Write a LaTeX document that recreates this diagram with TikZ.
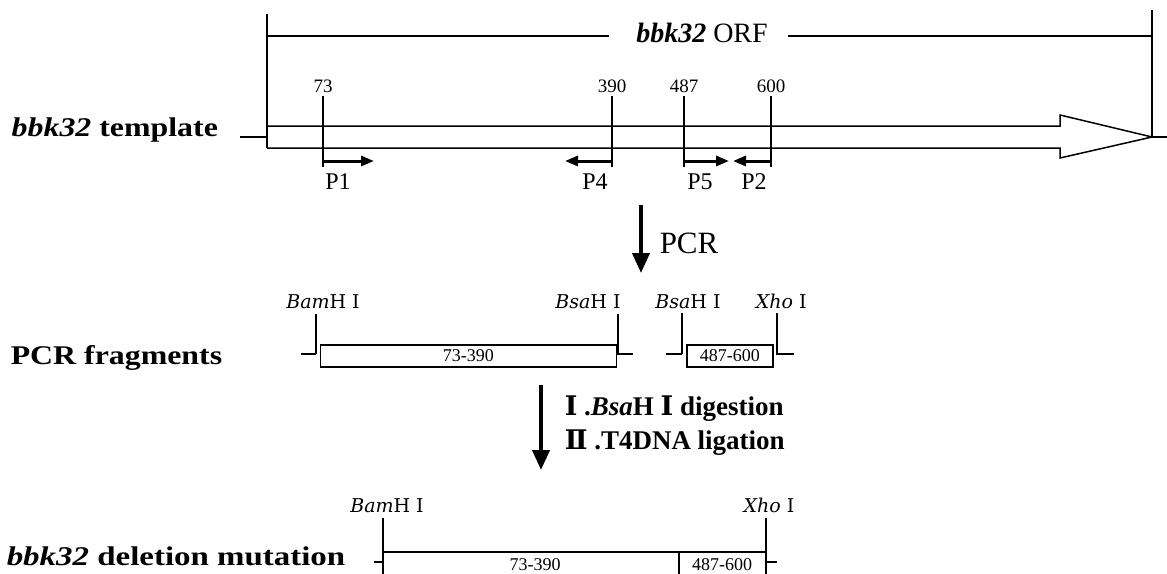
\documentclass[tikz,border=0pt]{standalone}
\usepackage{fontspec}
\setmainfont{Liberation Serif}
\newfontfamily\mainlbl[FakeStretch=1.18]{Liberation Serif}
\newfontfamily\dellbl[FakeStretch=1.22]{Liberation Serif}
\newfontfamily\steplbl[FakeStretch=1.0]{Liberation Serif}
\newfontfamily\romanf{DejaVu Serif}
\newfontfamily\enzf{DejaVu Serif}
\usetikzlibrary{arrows.meta}
\tikzset{
  primer/.style={line width=3pt,-{Triangle[length=13pt,width=10pt]}},
  bigarrow/.style={line width=4pt,-{Triangle[length=20pt,width=17pt]}},
  biglabel/.style={inner sep=0pt,font=\mainlbl\fontsize{27}{30}\selectfont\bfseries},
  dellabel/.style={inner sep=0pt,font=\dellbl\fontsize{27}{30}\selectfont\bfseries},
  steptext/.style={inner sep=0pt,font=\steplbl\fontsize{27}{30}\selectfont\bfseries},
  numlabel/.style={inner sep=0pt,font=\fontsize{19}{22}\selectfont},
  plabel/.style={inner sep=0pt,font=\fontsize{24}{26}\selectfont},
  enzlabel/.style={inner sep=0pt,font=\enzf\fontsize{19}{22}\selectfont},
  boxnum/.style={inner sep=0pt,font=\fontsize{18}{20}\selectfont},
  frag/.style={draw,line width=1.5pt,fill=white}
}
\begin{document}
\begin{tikzpicture}[x=1pt,y=-1pt,line width=1.5pt,line cap=butt]
\useasboundingbox (0,0) rectangle (1167,573);
\clip (0,0) rectangle (1167,573);

% ---------- ORF bracket ----------
\coordinate (orfL) at (267,36);
\coordinate (orfR) at (1152,36);
\node[inner sep=0pt,anchor=base,font=\fontsize{28}{30}\selectfont] (orf) at (702,42) {\textbf{\textit{bbk32}} ORF};
\draw (267,14) -- (267,148);
\draw (1152,10) -- (1152,137);
\draw (orfL) -- (609,36);
\draw (788,36) -- (orfR);

% ---------- template arrow ----------
\node[biglabel,anchor=base west] (tpl) at (11,136) {\textit{bbk32} template};
\coordinate (stubL) at (240,137);
\coordinate (tip) at (1152,137);
\draw (stubL) -- (267,137);
\draw (267,126) -- (1060,126) -- (1060,115) -- (tip) -- (1060,158) -- (1060,148) -- (267,148);
\draw (tip) -- (1167,137);

% position ticks
\foreach \x/\n in {323/73,612/390,684/487,771/600}{
  \node[numlabel,anchor=base] (n\n) at (\x,92) {\n};
  \draw (\x,96) -- (\x,167);
}
% primers
\draw[primer] (323,161) -- (374,161);
\draw[primer] (612,161) -- (565,161);
\draw[primer] (684,161) -- (729,161);
\draw[primer] (771,161) -- (733,161);
\node[plabel,anchor=base] (p1) at (338,189) {P1};
\node[plabel,anchor=base] (p4) at (595,189) {P4};
\node[plabel,anchor=base] (p5) at (700,189) {P5};
\node[plabel,anchor=base] (p2) at (754,189) {P2};

% ---------- PCR step ----------
\coordinate (pcrA) at (641,205);
\coordinate (pcrB) at (641,273);
\draw[bigarrow] (pcrA) -- (pcrB);
\node[inner sep=0pt,anchor=base west,font=\fontsize{31}{32}\selectfont] (pcr) at (659,253) {PCR};

% ---------- PCR fragments ----------
\node[biglabel,anchor=base west] (frags) at (10,364) {PCR fragments};
\node[enzlabel,anchor=base] (bam1) at (323,308) {\textit{Bam}H I};
\node[enzlabel,anchor=base] (bsa1) at (588,308) {\textit{Bsa}H I};
\node[enzlabel,anchor=base] (bsa2) at (688,308) {\textit{Bsa}H I};
\node[enzlabel,anchor=base west] (xho1) at (755,308) {\textit{Xho} I};

\draw (316,314) -- (316,354) (301,354) -- (316,354);
\draw (618,314) -- (618,354) -- (633,354);
\node[frag,minimum width=296pt,minimum height=22pt,inner sep=0pt,anchor=north west] (f1) at (319.5,344) {};
\node[boxnum] at (f1.center) {73-390};

\draw (666,354) -- (682,354) (682,313) -- (682,354);
\draw (777,313) -- (777,354) -- (794,354);
\node[frag,minimum width=86pt,minimum height=22pt,inner sep=0pt,anchor=north west] (f2) at (686,344) {};
\node[boxnum] at (f2.center) {487-600};

% ---------- digestion / ligation ----------
\coordinate (digA) at (541,385);
\coordinate (digB) at (541,470);
\draw[bigarrow] (digA) -- (digB);
\node[steptext,anchor=base west] (dig) at (564,415) {{\romanf Ⅰ} .\textit{Bsa}H {\romanf Ⅰ} digestion};
\node[steptext,anchor=base west] (lig) at (564,449) {{\romanf Ⅱ} .T4DNA ligation};

% ---------- deletion mutation ----------
\node[dellabel,anchor=base west] (del) at (6,565) {\textit{bbk32} deletion mutation};
\node[enzlabel,anchor=base] (bam2) at (387,512) {\textit{Bam}H I};
\node[enzlabel,anchor=base] (xho2) at (769,512) {\textit{Xho} I};
\draw (374,562) -- (383,562);
\draw (766,562) -- (777,562);
\draw (383,518) -- (383,590);
\draw (766,518) -- (766,590);
\draw (383,552) -- (766,552);
\draw (679,552) -- (679,590);
\node[boxnum,anchor=base] (m1) at (535,570) {73-390};
\node[boxnum,anchor=base] (m2) at (722,570) {487-600};
\end{tikzpicture}
\end{document}
